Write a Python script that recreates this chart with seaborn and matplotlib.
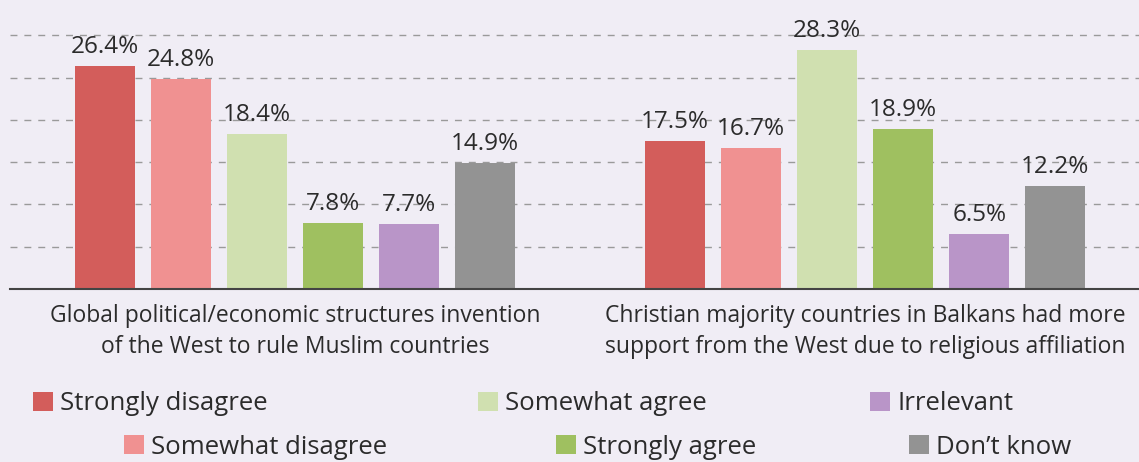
import pandas as pd
import seaborn as sns
import matplotlib.pyplot as plt

# dados
perguntas = [
    "Global political/economic structures invention\nof the West to rule Muslim countries",
    "Christian majority countries in Balkans had more\nsupport from the West due to religious affiliation",
]
respostas = ["Strongly disagree", "Somewhat disagree", "Somewhat agree",
             "Strongly agree", "Irrelevant", "Don’t know"]
valores_q1 = [26.4, 24.8, 18.4, 7.8, 7.7, 14.9]
valores_q2 = [17.5, 16.7, 28.3, 18.9, 6.5, 12.2]
cores = ["#d35d5b", "#f09191", "#d0e0b0", "#9fc060", "#b995c8", "#939393"]

fundo = "#f0edf5"
texto = "#2b2b2b"

tabela = pd.DataFrame({
    "pergunta": [perguntas[0]] * 6 + [perguntas[1]] * 6,
    "resposta": respostas * 2,
    "valor": valores_q1 + valores_q2,
})

sns.set_style("white")
plt.rcParams["font.family"] = ["Open Sans", "DejaVu Sans"]

fig = plt.figure(figsize=(11.39, 4.62), dpi=100, facecolor=fundo)
ax = fig.add_axes([10 / 1139, (462 - 289) / 462, 1 - 10 / 1139, 289 / 462])
ax.set_facecolor(fundo)

sns.barplot(data=tabela, x="pergunta", y="valor", hue="resposta",
            hue_order=respostas, palette=cores, width=0.8, gap=0.21,
            saturation=1, linewidth=0, ax=ax)

for barras in ax.containers:
    ax.bar_label(barras, fmt="%.1f%%", padding=5, fontsize=17.5, color=texto)

ax.set_xlim(-0.5, 1.48)
ax.set_ylim(0, 34.2)
ax.set_yticks([5, 10, 15, 20, 25, 30])
ax.set_yticklabels([])
ax.yaxis.grid(True, linestyle=(0, (5, 5)), color="#9a9a9a", linewidth=1)
ax.tick_params(axis="both", length=0)
ax.tick_params(axis="x", pad=11, labelsize=16.5, labelcolor=texto)
for rotulo in ax.get_xticklabels():
    rotulo.set_linespacing(1.4)
ax.set_xlabel("")
ax.set_ylabel("")
for lado in ["top", "right", "left"]:
    ax.spines[lado].set_visible(False)
ax.spines["bottom"].set_color("#444444")
ax.spines["bottom"].set_linewidth(1.5)

# legenda montada item a item, como no original
handles, labels = ax.get_legend_handles_labels()
ax.get_legend().remove()
posicoes = [(33, 404), (124, 447), (478, 404), (556, 447), (870, 404), (909, 447)]
for h, l, (px, py) in zip(handles, labels, posicoes):
    fig.legend([h], [l], loc="center left",
               bbox_to_anchor=(px / 1139, (462 - py) / 462),
               frameon=False, borderpad=0, borderaxespad=0,
               handlelength=0.78, handleheight=0.78, handletextpad=0.28,
               fontsize=18.5, labelcolor=texto)

fig.savefig("out.png", dpi=100, facecolor=fundo)
